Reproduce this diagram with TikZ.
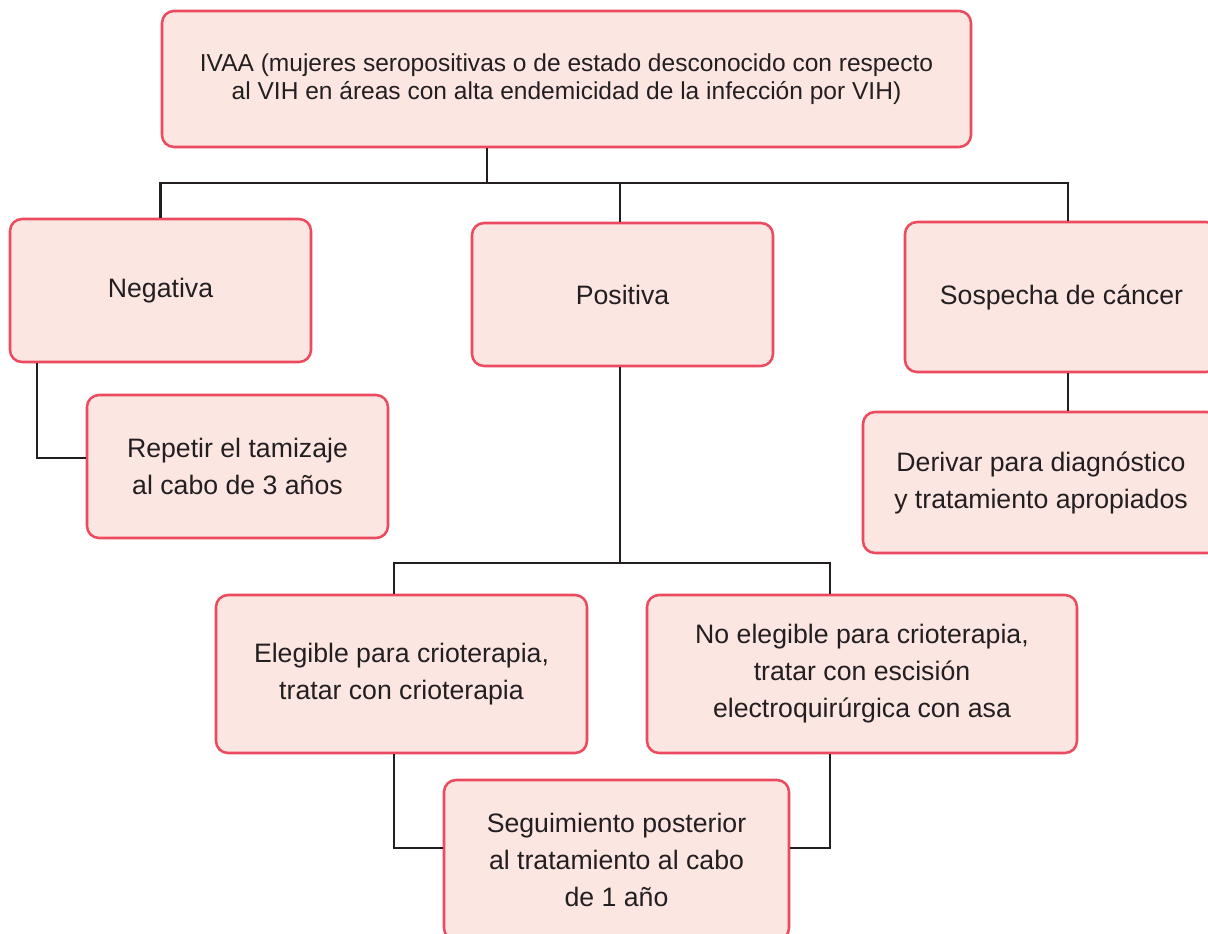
\documentclass[tikz,border=0pt]{standalone}
\usepackage{fontspec}
\setmainfont{Liberation Sans}
\definecolor{boxfill}{HTML}{FCE6E2}
\definecolor{boxdraw}{HTML}{EC4A5E}
\definecolor{ink}{HTML}{231F20}
\begin{document}
\begin{tikzpicture}[x=0.75pt,y=-0.75pt,
  box/.style={draw=boxdraw, fill=boxfill, line width=1.9pt, rounded corners=9pt,
    align=center, text=ink, inner sep=0pt, font=\fontsize{20}{27.75}\selectfont},
  sz/.style 2 args={minimum width=#1*0.75pt, minimum height=#2*0.75pt},
  wire/.style={draw=ink, line width=2.1pt}]
\clip (0,0) rectangle (1208,933);
\fill[white] (0,0) rectangle (1208,933);

\node[box, sz={809}{136}, font=\fontsize{18.4}{21}\selectfont] (top) at (566.5,79)
  {IVAA (mujeres seropositivas o de estado desconocido con respecto\\al VIH en áreas con alta endemicidad de la infección por VIH)};
\node[box, sz={301}{143}] (neg) at (160.5,290.5) {Negativa};
\node[box, sz={301}{143}] (rep) at (237.5,466.5) {Repetir el tamizaje\\al cabo de 3 años};
\node[box, sz={301}{143}] (pos) at (622.5,294.5) {Positiva};
\node[box, sz={313}{150}] (sos) at (1061.5,297) {Sospecha de cáncer};
\node[box, sz={356}{141}] (der) at (1041,482.5) {Derivar para diagnóstico\\y tratamiento apropiados};
\node[box, sz={371}{158}] (eleg) at (401.5,674) {Elegible para crioterapia,\\tratar con crioterapia};
\node[box, sz={430}{158}] (noel) at (862,674) {No elegible para crioterapia,\\tratar con escisión\\electroquirúrgica con asa};
\node[box, sz={345}{160}] (seg) at (616.5,860) {Seguimiento posterior\\al tratamiento al cabo\\de 1 año};

\coordinate (tj) at (487,183);
\coordinate (sj) at (1068,183);
\coordinate (mj) at (620,183);
\coordinate (nj) at (37,458);
\coordinate (pj) at (620,563);
\coordinate (ej) at (394,563);
\coordinate (oj) at (830,563);
\coordinate (eb) at (394,848);
\coordinate (ob) at (830,848);

\draw[wire] (tj |- top.south) -- (tj);
\draw[wire] (neg.north) |- (sj) -- (sj |- sos.north);
\draw[wire] (mj |- pos.north) -- (mj);
\draw[wire] (nj |- neg.south) -- (nj) -- (rep.west |- nj);
\draw[wire] (sj |- sos.south) -- (sj |- der.north);
\draw[wire] (pj |- pos.south) -- (pj);
\draw[wire] (ej |- eleg.north) -- (ej) -- (oj) -- (oj |- noel.north);
\draw[wire] (eb |- eleg.south) -- (eb) -- (seg.west |- eb);
\draw[wire] (ob |- noel.south) -- (ob) -- (seg.east |- ob);
\end{tikzpicture}
\end{document}
